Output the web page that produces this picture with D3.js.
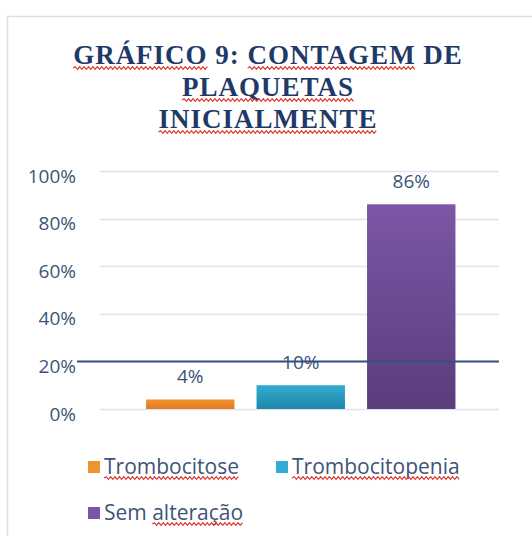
<!DOCTYPE html>
<html>
<head>
<meta charset="utf-8">
<script src="https://cdn.jsdelivr.net/npm/d3@7"></script>
<style>
  body { margin: 0; background: #fff; }
  svg { display: block; }
</style>
</head>
<body>
<div id="chart"></div>
<script>
// chart data
const titleLines = ['GRÁFICO 9: CONTAGEM DE', 'PLAQUETAS', 'INICIALMENTE'];
const categories = ['Trombocitose', 'Trombocitopenia', 'Sem alteração'];
const values = [0.04, 0.10, 0.86];
const yTicks = [0, 0.2, 0.4, 0.6, 0.8, 1.0];
const refLineValue = 0.2;
const misspelled = ['GRÁFICO', 'CONTAGEM', 'PLAQUETAS', 'INICIALMENTE', 'Trombocitose', 'Trombocitopenia', 'alteração'];

const width = 532;
const height = 536;

const colors = [
  { top: '#f2922e', bottom: '#e27822' },
  { top: '#32acd0', bottom: '#1f86a8' },
  { top: '#7b56a6', bottom: '#5a3d7c' }
];

const textColor = '#3d5478';
const sansFont = '"Open Sans", Lato, sans-serif';

const svg = d3.select('#chart')
  .append('svg')
  .attr('width', width)
  .attr('height', height);

// gradients for the bars
const defs = svg.append('defs');
colors.forEach((c, i) => {
  const g = defs.append('linearGradient')
    .attr('id', 'grad' + i)
    .attr('x1', 0).attr('y1', 0).attr('x2', 0).attr('y2', 1);
  g.append('stop').attr('offset', '0%').attr('stop-color', c.top);
  g.append('stop').attr('offset', '100%').attr('stop-color', c.bottom);
});

// outer frame
svg.append('rect')
  .attr('x', 7.5)
  .attr('y', 16.5)
  .attr('width', 600)
  .attr('height', 600)
  .attr('fill', 'none')
  .attr('stroke', '#d6dfea')
  .attr('stroke-width', 1.5);

// wavy red line under a word
function squiggle(x0, x1, y) {
  const step = 2.2;
  let d = `M${x0},${y}`;
  let up = true;
  for (let x = x0 + step; x <= x1; x += step) {
    d += ` L${x},${y + (up ? -1.3 : 1.3)}`;
    up = !up;
  }
  return d;
}

function underlineWords(textSel, anchor) {
  const node = textSel.node();
  const str = textSel.text();
  const total = node.getComputedTextLength();
  const x = +textSel.attr('x');
  const y = +textSel.attr('y');
  const start = anchor === 'middle' ? x - total / 2 : x;
  misspelled.forEach(w => {
    const idx = str.indexOf(w);
    if (idx < 0) return;
    const a = start + (idx > 0 ? node.getSubStringLength(0, idx) : 0);
    const b = a + node.getSubStringLength(idx, w.length);
    svg.append('path')
      .attr('d', squiggle(a, b, y + 4))
      .attr('fill', 'none')
      .attr('stroke', '#e0342c')
      .attr('stroke-width', 1.2);
  });
}

// title
titleLines.forEach((line, i) => {
  const t = svg.append('text')
    .attr('x', 268)
    .attr('y', 64 + i * 32)
    .attr('text-anchor', 'middle')
    .style('font-family', '"Liberation Serif", "DejaVu Serif", serif')
    .style('font-weight', 'bold')
    .style('font-size', '27px')
    .style('letter-spacing', '1px')
    .style('fill', '#1f3a68')
    .text(line);
  underlineWords(t, 'middle');
});

// scales
const y = d3.scaleLinear()
  .domain([0, 1])
  .range([409, 171]);

const x = d3.scaleBand()
  .domain(categories)
  .range([135, 466.5])
  .paddingInner(0.2)
  .paddingOuter(0.1);

// gridlines
svg.append('g')
  .selectAll('line')
  .data(yTicks)
  .enter()
  .append('line')
  .attr('x1', 100)
  .attr('x2', 499)
  .attr('y1', d => Math.round(y(d)) + 0.5)
  .attr('y2', d => Math.round(y(d)) + 0.5)
  .attr('stroke', '#dbe4f0')
  .attr('stroke-width', 1.5);

// y axis labels
const yAxis = svg.append('g')
  .attr('transform', 'translate(76,0)')
  .call(d3.axisLeft(y).tickValues(yTicks).tickFormat(d3.format('.0%')).tickSize(0).tickPadding(0));
yAxis.select('.domain').remove();
yAxis.selectAll('text')
  .attr('dy', 0)
  .attr('y', 11)
  .style('font-family', sansFont)
  .style('font-size', '19px')
  .style('fill', textColor);

// bars
svg.append('g')
  .selectAll('rect')
  .data(values)
  .enter()
  .append('rect')
  .attr('x', (d, i) => x(categories[i]))
  .attr('y', d => y(d))
  .attr('width', x.bandwidth())
  .attr('height', d => y(0) - y(d))
  .attr('fill', (d, i) => `url(#grad${i})`);

// data labels
svg.append('g')
  .selectAll('text')
  .data(values)
  .enter()
  .append('text')
  .attr('x', (d, i) => x(categories[i]) + x.bandwidth() / 2)
  .attr('y', d => y(d) - 16)
  .attr('text-anchor', 'middle')
  .style('font-family', sansFont)
  .style('font-size', '19px')
  .style('fill', textColor)
  .text(d => d3.format('.0%')(d));

// reference line at 20%, ends with the gridlines
svg.append('line')
  .attr('x1', 77)
  .attr('x2', 499)
  .attr('y1', y(refLineValue))
  .attr('y2', y(refLineValue))
  .attr('stroke', '#34507e')
  .attr('stroke-width', 2);

// legend
const legendPos = [
  { x: 88, y: 467 },
  { x: 276, y: 467 },
  { x: 88, y: 513 }
];

categories.forEach((c, i) => {
  const p = legendPos[i];
  svg.append('rect')
    .attr('x', p.x)
    .attr('y', p.y - 6)
    .attr('width', 12)
    .attr('height', 12)
    .attr('fill', colors[i].top);
  const t = svg.append('text')
    .attr('x', p.x + 16)
    .attr('y', p.y + 7)
    .style('font-family', sansFont)
    .style('font-size', '21px')
    .style('fill', textColor)
    .text(c);
  underlineWords(t, 'start');
});
</script>
</body>
</html>
